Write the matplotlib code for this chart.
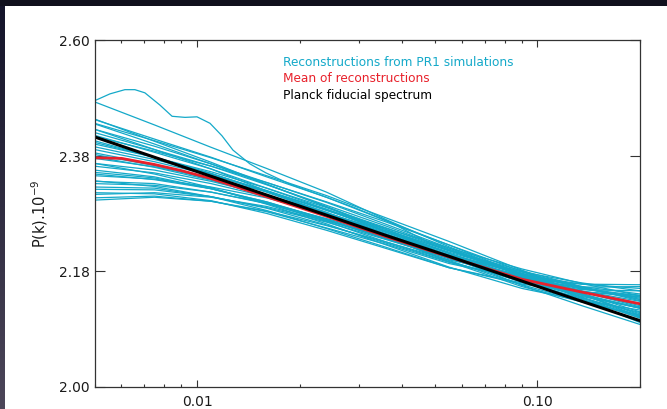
import matplotlib
matplotlib.use("Agg")
import numpy as np
import matplotlib.pyplot as plt
from matplotlib.patches import Rectangle
from matplotlib.colors import LinearSegmentedColormap
from matplotlib.ticker import FixedLocator, FixedFormatter, LogLocator, NullFormatter, NullLocator

# ---- data (P(k) in units of 1e-9) ----
k_grid = [0.005, 0.0075, 0.011, 0.016, 0.024, 0.036, 0.055, 0.09, 0.135, 0.2]

reconstructions = [
    [2.450, 2.409, 2.371, 2.332, 2.292, 2.250, 2.208, 2.160, 2.127, 2.097],
    [2.449, 2.413, 2.380, 2.345, 2.309, 2.268, 2.227, 2.178, 2.138, 2.100],
    [2.441, 2.404, 2.368, 2.332, 2.293, 2.253, 2.213, 2.168, 2.137, 2.108],
    [2.442, 2.410, 2.379, 2.347, 2.312, 2.273, 2.233, 2.185, 2.146, 2.109],
    [2.431, 2.394, 2.359, 2.320, 2.281, 2.240, 2.199, 2.158, 2.133, 2.111],
    [2.431, 2.400, 2.368, 2.335, 2.300, 2.262, 2.222, 2.176, 2.140, 2.107],
    [2.425, 2.394, 2.364, 2.331, 2.295, 2.259, 2.220, 2.179, 2.147, 2.117],
    [2.420, 2.389, 2.359, 2.325, 2.288, 2.249, 2.210, 2.170, 2.144, 2.123],
    [2.418, 2.391, 2.364, 2.335, 2.301, 2.266, 2.227, 2.183, 2.146, 2.112],
    [2.410, 2.380, 2.351, 2.318, 2.281, 2.243, 2.205, 2.165, 2.139, 2.116],
    [2.407, 2.380, 2.351, 2.319, 2.283, 2.245, 2.206, 2.167, 2.142, 2.123],
    [2.404, 2.380, 2.354, 2.325, 2.291, 2.256, 2.218, 2.176, 2.144, 2.114],
    [2.399, 2.376, 2.350, 2.321, 2.287, 2.250, 2.213, 2.173, 2.146, 2.123],
    [2.394, 2.372, 2.348, 2.320, 2.286, 2.253, 2.217, 2.182, 2.157, 2.135],
    [2.388, 2.367, 2.340, 2.310, 2.276, 2.239, 2.201, 2.161, 2.134, 2.112],
    [2.385, 2.365, 2.341, 2.313, 2.281, 2.246, 2.210, 2.174, 2.150, 2.131],
    [2.381, 2.362, 2.339, 2.312, 2.277, 2.243, 2.205, 2.168, 2.144, 2.124],
    [2.378, 2.363, 2.343, 2.319, 2.288, 2.255, 2.222, 2.187, 2.163, 2.143],
    [2.369, 2.350, 2.326, 2.297, 2.263, 2.227, 2.190, 2.155, 2.135, 2.120],
    [2.369, 2.357, 2.337, 2.313, 2.282, 2.250, 2.215, 2.180, 2.156, 2.139],
    [2.364, 2.352, 2.333, 2.310, 2.280, 2.248, 2.213, 2.177, 2.150, 2.127],
    [2.357, 2.345, 2.324, 2.299, 2.267, 2.232, 2.199, 2.167, 2.150, 2.141],
    [2.353, 2.343, 2.324, 2.301, 2.271, 2.240, 2.205, 2.173, 2.151, 2.134],
    [2.350, 2.340, 2.324, 2.301, 2.270, 2.237, 2.204, 2.172, 2.154, 2.141],
    [2.347, 2.341, 2.327, 2.308, 2.280, 2.251, 2.218, 2.184, 2.158, 2.137],
    [2.338, 2.328, 2.310, 2.286, 2.255, 2.223, 2.189, 2.162, 2.149, 2.144],
    [2.337, 2.333, 2.318, 2.298, 2.269, 2.238, 2.205, 2.174, 2.155, 2.143],
    [2.333, 2.330, 2.318, 2.299, 2.272, 2.244, 2.210, 2.179, 2.156, 2.137],
    [2.327, 2.325, 2.310, 2.290, 2.261, 2.230, 2.198, 2.170, 2.157, 2.158],
    [2.323, 2.322, 2.310, 2.291, 2.266, 2.236, 2.205, 2.176, 2.158, 2.146],
    [2.317, 2.315, 2.303, 2.281, 2.252, 2.221, 2.189, 2.164, 2.153, 2.151],
    [2.314, 2.317, 2.309, 2.293, 2.268, 2.241, 2.210, 2.182, 2.164, 2.151],
    [2.308, 2.311, 2.302, 2.284, 2.256, 2.228, 2.196, 2.171, 2.162, 2.161],
    [2.304, 2.309, 2.302, 2.285, 2.260, 2.232, 2.202, 2.177, 2.162, 2.155],
]

# steep reconstruction starting highest at large scales
steep_reconstruction = [2.482, 2.439, 2.398, 2.360, 2.318, 2.270, 2.224, 2.177, 2.141, 2.110]

# reconstruction with the low-k feature
k_feature = [0.005, 0.00555, 0.00614, 0.00657, 0.00703, 0.00778, 0.00845, 0.00922,
             0.0100, 0.01092, 0.01184, 0.01275, 0.01431, 0.01594, 0.01876, 0.02298,
             0.02871, 0.03688, 0.04833, 0.0678, 0.1017, 0.1427, 0.2]
p_feature = [2.484, 2.497, 2.505, 2.505, 2.499, 2.476, 2.455, 2.453,
             2.454, 2.442, 2.419, 2.393, 2.368, 2.352, 2.332, 2.313,
             2.292, 2.266, 2.230, 2.200, 2.169, 2.146, 2.125]

k_mean = [0.005, 0.006, 0.0075, 0.009, 0.011, 0.016, 0.024, 0.036, 0.055, 0.09, 0.135, 0.2]
mean_reconstruction = [2.379, 2.378, 2.367, 2.356, 2.342, 2.310, 2.276, 2.241, 2.207, 2.170, 2.149, 2.130]

planck_fiducial = [2.417, 2.380, 2.346, 2.313, 2.278, 2.243, 2.208, 2.167, 2.134, 2.103]

x_ticks = [0.01, 0.1]
x_ticklabels = ["0.01", "0.10"]
y_ticks = [2.0, 2.1828, 2.3816, 2.6]
y_ticklabels = ["2.00", "2.18", "2.38", "2.60"]

legend_labels = ["Reconstructions from PR1 simulations",
                 "Mean of reconstructions",
                 "Planck fiducial spectrum"]

CYAN = "#14a9c9"
RED = "#e8212b"
BLACK = "#000000"

W, H = 667, 409
fig = plt.figure(figsize=(W / 100, H / 100), dpi=100, facecolor="white")

# dark frame strips along the top and left edges
fig.patches.append(Rectangle((0, 1 - 6 / H), 1, 6 / H, transform=fig.transFigure,
                             facecolor="#10101d", edgecolor="none", zorder=0))
strip = fig.add_axes([0, 0, 5 / W, 1 - 6 / H])
strip.imshow(np.linspace(0, 1, 200).reshape(-1, 1), aspect="auto",
             cmap=LinearSegmentedColormap.from_list("edge", ["#14142a", "#4c4659"]),
             extent=(0, 1, 0, 1), origin="upper")
strip.axis("off")

left, right, top, bottom = 94.5, 640, 40.5, 387
ax = fig.add_axes([left / W, 1 - bottom / H, (right - left) / W, (bottom - top) / H])
ax.set_xscale("log")
ax.set_yscale("log")

for curve in reconstructions:
    ax.plot(k_grid, curve, color=CYAN, lw=0.9)
ax.plot(k_grid, steep_reconstruction, color=CYAN, lw=0.9)
ax.plot(k_feature, p_feature, color=CYAN, lw=0.9)
ax.plot(k_mean, mean_reconstruction, color=RED, lw=2.0)
ax.plot(k_grid, planck_fiducial, color=BLACK, lw=2.2)

ax.set_xlim(0.005, 0.2)
ax.set_ylim(2.0, 2.6)

ax.xaxis.set_major_locator(FixedLocator(x_ticks))
ax.xaxis.set_major_formatter(FixedFormatter(x_ticklabels))
ax.xaxis.set_minor_locator(LogLocator(base=10, subs=np.arange(2, 10), numticks=20))
ax.xaxis.set_minor_formatter(NullFormatter())
ax.yaxis.set_major_locator(FixedLocator(y_ticks))
ax.yaxis.set_major_formatter(FixedFormatter(y_ticklabels))
ax.yaxis.set_minor_locator(NullLocator())

ax.tick_params(axis="both", which="both", direction="in", top=True, right=True,
               color="#333333", width=0.8, labelcolor="#1a1a1a", labelsize=10)
ax.tick_params(axis="x", which="major", length=4.8, pad=6)
ax.tick_params(axis="x", which="minor", length=2.3)
ax.tick_params(axis="y", which="major", length=7.2, pad=3.5)

for sp in ax.spines.values():
    sp.set_color("#333333")
    sp.set_linewidth(0.9)

ax.set_ylabel("P(k).10$^{-9}$", fontsize=10.5, color="#1a1a1a", labelpad=6)

for i, (txt, col) in enumerate(zip(legend_labels, [CYAN, RED, BLACK])):
    fig.text(283 / W, 1 - (62 + 16.5 * i) / H, txt, color=col, fontsize=8.7,
             ha="left", va="center")

fig.savefig("out.png", dpi=100, facecolor="white")
